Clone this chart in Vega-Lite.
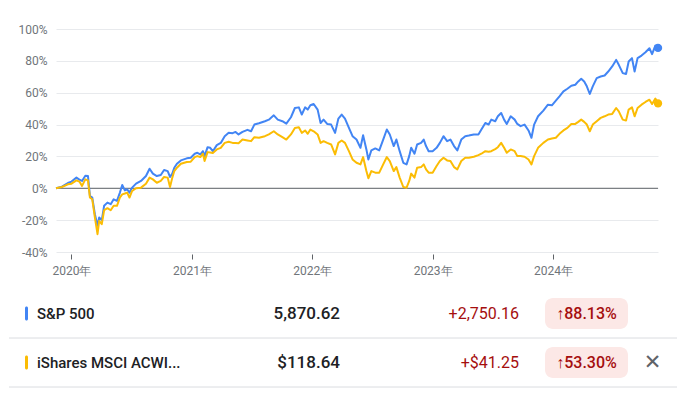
{
  "$schema": "https://vega.github.io/schema/vega-lite/v6.json",
  "background": "#ffffff",
  "padding": {"left": 8, "top": 23, "right": 0, "bottom": 0},
  "spacing": 13,
  "config": {"view": {"stroke": null}, "font": "Roboto"},
  "datasets": {
    "prices": [
      {"date": "2019-11-15", "sp": 0, "acwi": 0},
      {"date": "2019-12-03", "sp": 1.0, "acwi": 0.8},
      {"date": "2019-12-21", "sp": 3.3, "acwi": 2.5},
      {"date": "2020-01-01", "sp": 4.2, "acwi": 2.9},
      {"date": "2020-01-16", "sp": 6.7, "acwi": 5.0},
      {"date": "2020-01-25", "sp": 5.4, "acwi": 4.2},
      {"date": "2020-02-02", "sp": 4.6, "acwi": 1.5},
      {"date": "2020-02-12", "sp": 7.9, "acwi": 5.6},
      {"date": "2020-02-20", "sp": 7.7, "acwi": 5.0},
      {"date": "2020-02-26", "sp": -4.8, "acwi": -5.8},
      {"date": "2020-03-04", "sp": -5.8, "acwi": -6.9},
      {"date": "2020-03-12", "sp": -16.3, "acwi": -18.3},
      {"date": "2020-03-20", "sp": -23.5, "acwi": -28.8},
      {"date": "2020-03-25", "sp": -18.3, "acwi": -20.4},
      {"date": "2020-04-02", "sp": -20.0, "acwi": -22.5},
      {"date": "2020-04-09", "sp": -11.0, "acwi": -13.8},
      {"date": "2020-04-19", "sp": -9.0, "acwi": -12.5},
      {"date": "2020-04-29", "sp": -10.0, "acwi": -13.8},
      {"date": "2020-05-08", "sp": -6.9, "acwi": -11.0},
      {"date": "2020-05-18", "sp": -7.9, "acwi": -11.0},
      {"date": "2020-05-27", "sp": -2.7, "acwi": -5.8},
      {"date": "2020-06-03", "sp": 2.1, "acwi": -3.8},
      {"date": "2020-06-11", "sp": -1.3, "acwi": -3.3},
      {"date": "2020-06-18", "sp": -0.6, "acwi": -2.7},
      {"date": "2020-06-25", "sp": -2.7, "acwi": -5.8},
      {"date": "2020-07-03", "sp": 0.4, "acwi": -1.7},
      {"date": "2020-07-15", "sp": 2.9, "acwi": 0.0},
      {"date": "2020-07-30", "sp": 4.6, "acwi": 0.4},
      {"date": "2020-08-14", "sp": 7.7, "acwi": 2.9},
      {"date": "2020-08-25", "sp": 12.3, "acwi": 6.7},
      {"date": "2020-09-04", "sp": 9.2, "acwi": 5.6},
      {"date": "2020-09-16", "sp": 7.7, "acwi": 3.5},
      {"date": "2020-09-28", "sp": 8.3, "acwi": 4.6},
      {"date": "2020-10-08", "sp": 11.5, "acwi": 7.1},
      {"date": "2020-10-19", "sp": 10.8, "acwi": 6.7},
      {"date": "2020-10-26", "sp": 7.1, "acwi": 0.8},
      {"date": "2020-11-02", "sp": 9.2, "acwi": 6.7},
      {"date": "2020-11-08", "sp": 12.9, "acwi": 10.8},
      {"date": "2020-11-16", "sp": 15.4, "acwi": 12.9},
      {"date": "2020-11-28", "sp": 17.5, "acwi": 15.4},
      {"date": "2020-12-16", "sp": 18.8, "acwi": 16.5},
      {"date": "2020-12-28", "sp": 19.2, "acwi": 16.7},
      {"date": "2021-01-09", "sp": 21.7, "acwi": 19.6},
      {"date": "2021-01-17", "sp": 22.3, "acwi": 20.2},
      {"date": "2021-01-26", "sp": 21.3, "acwi": 19.6},
      {"date": "2021-02-03", "sp": 23.3, "acwi": 21.7},
      {"date": "2021-02-08", "sp": 20.2, "acwi": 17.1},
      {"date": "2021-02-17", "sp": 25.8, "acwi": 22.7},
      {"date": "2021-02-25", "sp": 25.4, "acwi": 22.5},
      {"date": "2021-03-05", "sp": 23.3, "acwi": 22.1},
      {"date": "2021-03-17", "sp": 27.1, "acwi": 24.4},
      {"date": "2021-03-29", "sp": 28.5, "acwi": 25.4},
      {"date": "2021-04-10", "sp": 32.7, "acwi": 28.5},
      {"date": "2021-04-22", "sp": 34.8, "acwi": 29.2},
      {"date": "2021-05-04", "sp": 34.6, "acwi": 28.5},
      {"date": "2021-05-13", "sp": 35.4, "acwi": 28.5},
      {"date": "2021-05-22", "sp": 33.8, "acwi": 28.3},
      {"date": "2021-06-03", "sp": 35.4, "acwi": 30.6},
      {"date": "2021-06-18", "sp": 36.7, "acwi": 30.0},
      {"date": "2021-06-29", "sp": 35.8, "acwi": 29.6},
      {"date": "2021-07-09", "sp": 40.0, "acwi": 32.1},
      {"date": "2021-07-23", "sp": 40.8, "acwi": 31.7},
      {"date": "2021-08-10", "sp": 42.1, "acwi": 32.7},
      {"date": "2021-08-22", "sp": 43.1, "acwi": 33.8},
      {"date": "2021-09-06", "sp": 45.8, "acwi": 35.8},
      {"date": "2021-09-18", "sp": 43.1, "acwi": 33.8},
      {"date": "2021-10-02", "sp": 42.1, "acwi": 32.1},
      {"date": "2021-10-14", "sp": 40.6, "acwi": 30.6},
      {"date": "2021-10-28", "sp": 44.6, "acwi": 33.8},
      {"date": "2021-11-09", "sp": 50.4, "acwi": 37.9},
      {"date": "2021-11-21", "sp": 50.8, "acwi": 38.3},
      {"date": "2021-11-30", "sp": 46.3, "acwi": 34.8},
      {"date": "2021-12-10", "sp": 50.8, "acwi": 36.3},
      {"date": "2021-12-18", "sp": 49.4, "acwi": 34.2},
      {"date": "2021-12-26", "sp": 52.1, "acwi": 36.9},
      {"date": "2022-01-05", "sp": 52.9, "acwi": 35.8},
      {"date": "2022-01-17", "sp": 49.4, "acwi": 33.8},
      {"date": "2022-01-26", "sp": 41.0, "acwi": 28.5},
      {"date": "2022-02-04", "sp": 43.1, "acwi": 29.6},
      {"date": "2022-02-15", "sp": 40.4, "acwi": 28.5},
      {"date": "2022-02-27", "sp": 40.0, "acwi": 27.5},
      {"date": "2022-03-11", "sp": 34.8, "acwi": 21.3},
      {"date": "2022-03-21", "sp": 43.8, "acwi": 28.5},
      {"date": "2022-03-31", "sp": 46.3, "acwi": 30.0},
      {"date": "2022-04-10", "sp": 43.8, "acwi": 28.5},
      {"date": "2022-04-22", "sp": 37.9, "acwi": 23.3},
      {"date": "2022-05-03", "sp": 32.7, "acwi": 18.1},
      {"date": "2022-05-15", "sp": 30.6, "acwi": 16.0},
      {"date": "2022-05-27", "sp": 25.4, "acwi": 15.0},
      {"date": "2022-06-04", "sp": 33.3, "acwi": 19.6},
      {"date": "2022-06-14", "sp": 24.4, "acwi": 10.8},
      {"date": "2022-06-20", "sp": 18.1, "acwi": 6.3},
      {"date": "2022-06-29", "sp": 23.8, "acwi": 10.8},
      {"date": "2022-07-11", "sp": 25.0, "acwi": 9.8},
      {"date": "2022-07-23", "sp": 23.8, "acwi": 9.8},
      {"date": "2022-08-04", "sp": 30.6, "acwi": 15.0},
      {"date": "2022-08-15", "sp": 36.9, "acwi": 19.6},
      {"date": "2022-08-24", "sp": 33.8, "acwi": 17.1},
      {"date": "2022-09-05", "sp": 26.5, "acwi": 10.8},
      {"date": "2022-09-13", "sp": 30.6, "acwi": 13.3},
      {"date": "2022-09-23", "sp": 23.3, "acwi": 6.7},
      {"date": "2022-10-04", "sp": 16.0, "acwi": 0.8},
      {"date": "2022-10-14", "sp": 15.0, "acwi": 0.4},
      {"date": "2022-10-22", "sp": 20.2, "acwi": 4.6},
      {"date": "2022-10-28", "sp": 25.4, "acwi": 9.2},
      {"date": "2022-11-07", "sp": 21.7, "acwi": 6.7},
      {"date": "2022-11-15", "sp": 27.5, "acwi": 12.9},
      {"date": "2022-11-27", "sp": 28.5, "acwi": 13.3},
      {"date": "2022-12-05", "sp": 30.6, "acwi": 15.0},
      {"date": "2022-12-12", "sp": 26.5, "acwi": 11.9},
      {"date": "2022-12-20", "sp": 23.3, "acwi": 9.8},
      {"date": "2023-01-01", "sp": 23.3, "acwi": 9.8},
      {"date": "2023-01-13", "sp": 25.4, "acwi": 14.0},
      {"date": "2023-01-23", "sp": 28.5, "acwi": 17.1},
      {"date": "2023-02-03", "sp": 32.7, "acwi": 19.2},
      {"date": "2023-02-14", "sp": 29.6, "acwi": 17.5},
      {"date": "2023-02-24", "sp": 30.6, "acwi": 17.1},
      {"date": "2023-03-07", "sp": 26.5, "acwi": 13.3},
      {"date": "2023-03-17", "sp": 23.8, "acwi": 11.9},
      {"date": "2023-03-29", "sp": 30.6, "acwi": 17.1},
      {"date": "2023-04-10", "sp": 32.7, "acwi": 19.2},
      {"date": "2023-04-21", "sp": 33.1, "acwi": 19.2},
      {"date": "2023-05-06", "sp": 33.8, "acwi": 19.8},
      {"date": "2023-05-20", "sp": 33.8, "acwi": 20.8},
      {"date": "2023-05-29", "sp": 36.9, "acwi": 21.7},
      {"date": "2023-06-10", "sp": 41.0, "acwi": 23.3},
      {"date": "2023-06-20", "sp": 40.0, "acwi": 22.9},
      {"date": "2023-06-28", "sp": 43.1, "acwi": 23.3},
      {"date": "2023-07-10", "sp": 42.1, "acwi": 24.6},
      {"date": "2023-07-18", "sp": 45.2, "acwi": 25.8},
      {"date": "2023-07-28", "sp": 47.3, "acwi": 28.5},
      {"date": "2023-08-06", "sp": 43.1, "acwi": 25.4},
      {"date": "2023-08-14", "sp": 40.4, "acwi": 22.3},
      {"date": "2023-08-26", "sp": 45.2, "acwi": 24.4},
      {"date": "2023-09-07", "sp": 43.1, "acwi": 23.3},
      {"date": "2023-09-15", "sp": 40.4, "acwi": 20.2},
      {"date": "2023-09-25", "sp": 39.0, "acwi": 20.2},
      {"date": "2023-10-07", "sp": 40.0, "acwi": 19.8},
      {"date": "2023-10-19", "sp": 36.3, "acwi": 18.1},
      {"date": "2023-10-28", "sp": 31.7, "acwi": 15.0},
      {"date": "2023-11-05", "sp": 40.0, "acwi": 20.2},
      {"date": "2023-11-17", "sp": 45.2, "acwi": 25.4},
      {"date": "2023-12-03", "sp": 48.8, "acwi": 28.5},
      {"date": "2023-12-17", "sp": 52.5, "acwi": 30.6},
      {"date": "2023-12-29", "sp": 52.1, "acwi": 31.3},
      {"date": "2024-01-10", "sp": 55.0, "acwi": 31.7},
      {"date": "2024-01-21", "sp": 57.7, "acwi": 34.2},
      {"date": "2024-02-02", "sp": 60.8, "acwi": 36.3},
      {"date": "2024-02-14", "sp": 62.5, "acwi": 37.9},
      {"date": "2024-02-26", "sp": 64.4, "acwi": 40.4},
      {"date": "2024-03-09", "sp": 65.0, "acwi": 40.4},
      {"date": "2024-03-18", "sp": 67.1, "acwi": 41.7},
      {"date": "2024-03-27", "sp": 68.8, "acwi": 43.1},
      {"date": "2024-04-05", "sp": 67.1, "acwi": 41.7},
      {"date": "2024-04-13", "sp": 64.0, "acwi": 40.0},
      {"date": "2024-04-22", "sp": 59.2, "acwi": 35.8},
      {"date": "2024-05-01", "sp": 64.0, "acwi": 40.0},
      {"date": "2024-05-13", "sp": 69.2, "acwi": 42.1},
      {"date": "2024-05-25", "sp": 70.2, "acwi": 44.2},
      {"date": "2024-06-06", "sp": 70.8, "acwi": 45.2},
      {"date": "2024-06-17", "sp": 73.3, "acwi": 46.3},
      {"date": "2024-06-29", "sp": 76.5, "acwi": 46.7},
      {"date": "2024-07-11", "sp": 80.6, "acwi": 50.4},
      {"date": "2024-07-19", "sp": 77.5, "acwi": 48.3},
      {"date": "2024-07-31", "sp": 72.3, "acwi": 43.1},
      {"date": "2024-08-10", "sp": 71.7, "acwi": 42.5},
      {"date": "2024-08-18", "sp": 79.6, "acwi": 49.4},
      {"date": "2024-08-28", "sp": 81.7, "acwi": 50.8},
      {"date": "2024-09-05", "sp": 73.3, "acwi": 45.2},
      {"date": "2024-09-14", "sp": 81.7, "acwi": 50.4},
      {"date": "2024-09-26", "sp": 83.3, "acwi": 52.5},
      {"date": "2024-10-08", "sp": 85.4, "acwi": 54.2},
      {"date": "2024-10-20", "sp": 87.9, "acwi": 55.6},
      {"date": "2024-10-28", "sp": 84.2, "acwi": 52.9},
      {"date": "2024-11-07", "sp": 89.6, "acwi": 56.3},
      {"date": "2024-11-15", "sp": 88.13, "acwi": 53.30}
    ],
    "summary": [
      {"key": "sp", "name": "S&P 500", "price": "5,870.62", "change": "+2,750.16", "pct": "↑88.13%"},
      {"key": "acwi", "name": "iShares MSCI ACWI...", "price": "$118.64", "change": "+$41.25", "pct": "↑53.30%"}
    ]
  },
  "vconcat": [
    {
      "spacing": 0,
      "hconcat": [
        {
          "width": 1, "height": 1,
          "data": {"values": []},
          "mark": "point"
        },
        {
          "width": 602,
          "height": 223,
          "data": {"name": "prices"},
          "layer": [
            {
              "data": {"values": [{"level": 0}]},
              "mark": {"type": "rule", "color": "#5f6368", "strokeWidth": 1},
              "encoding": {
                "y": {
                  "field": "level", "type": "quantitative", "title": null,
                  "scale": {"domain": [-40, 100]},
                  "axis": {
                    "values": [-40, -20, 0, 20, 40, 60, 80, 100],
                    "labelExpr": "datum.value + '%'",
                    "title": null, "domain": false, "ticks": false, "grid": true, "gridColor": "#e8eaed",
                    "labelPadding": 9, "labelColor": "#70757a", "labelFontSize": 12,
                    "minExtent": 46, "maxExtent": 46
                  }
                }
              }
            },
            {
              "transform": [{"fold": ["sp", "acwi"], "as": ["key", "pct"]}],
              "mark": {"type": "line", "strokeWidth": 2, "strokeJoin": "round"},
              "encoding": {
                "x": {
                  "field": "date", "type": "temporal", "title": null,
                  "scale": {"domain": [{"year": 2019, "month": 11, "date": 15}, {"year": 2024, "month": 11, "date": 15}]},
                  "axis": {
                    "values": [{"year": 2020, "month": 1, "date": 1}, {"year": 2021, "month": 1, "date": 1}, {"year": 2022, "month": 1, "date": 1}, {"year": 2023, "month": 1, "date": 1}, {"year": 2024, "month": 1, "date": 1}],
                    "labelExpr": "timeFormat(datum.value, '%Y') + '年'",
                    "title": null, "domain": false, "grid": false,
                    "ticks": true, "tickSize": 5, "tickColor": "#5f6368", "tickWidth": 1, "offset": 2,
                    "labelPadding": 6, "labelColor": "#70757a", "labelFontSize": 12, "labelFlush": false, "labelOverlap": false
                  }
                },
                "y": {
                  "field": "pct", "type": "quantitative", "title": null,
                  "scale": {"domain": [-40, 100]},
                  "axis": {
                    "values": [-40, -20, 0, 20, 40, 60, 80, 100],
                    "labelExpr": "datum.value + '%'",
                    "title": null, "domain": false, "ticks": false, "grid": true, "gridColor": "#e8eaed",
                    "labelPadding": 9, "labelColor": "#70757a", "labelFontSize": 12,
                    "minExtent": 46, "maxExtent": 46
                  }
                },
                "color": {"field": "key", "type": "nominal", "scale": {"domain": ["sp", "acwi"], "range": ["#4285f4", "#fbbc04"]}, "legend": null}
              }
            },
            {
              "transform": [
                {"fold": ["sp", "acwi"], "as": ["key", "pct"]},
                {"filter": {"field": "date", "timeUnit": "yearmonthdate", "equal": {"year": 2024, "month": 11, "date": 15}}}
              ],
              "mark": {"type": "circle", "size": 70, "opacity": 1},
              "encoding": {
                "x": {
                  "field": "date", "type": "temporal", "title": null,
                  "scale": {"domain": [{"year": 2019, "month": 11, "date": 15}, {"year": 2024, "month": 11, "date": 15}]},
                  "axis": {
                    "values": [{"year": 2020, "month": 1, "date": 1}, {"year": 2021, "month": 1, "date": 1}, {"year": 2022, "month": 1, "date": 1}, {"year": 2023, "month": 1, "date": 1}, {"year": 2024, "month": 1, "date": 1}],
                    "labelExpr": "timeFormat(datum.value, '%Y') + '年'",
                    "title": null, "domain": false, "grid": false,
                    "ticks": true, "tickSize": 5, "tickColor": "#5f6368", "tickWidth": 1, "offset": 2,
                    "labelPadding": 6, "labelColor": "#70757a", "labelFontSize": 12, "labelFlush": false, "labelOverlap": false
                  }
                },
                "y": {
                  "field": "pct", "type": "quantitative", "title": null,
                  "scale": {"domain": [-40, 100]},
                  "axis": {
                    "values": [-40, -20, 0, 20, 40, 60, 80, 100],
                    "labelExpr": "datum.value + '%'",
                    "title": null, "domain": false, "ticks": false, "grid": true, "gridColor": "#e8eaed",
                    "labelPadding": 9, "labelColor": "#70757a", "labelFontSize": 12,
                    "minExtent": 46, "maxExtent": 46
                  }
                },
                "color": {"field": "key", "type": "nominal", "scale": {"domain": ["sp", "acwi"], "range": ["#4285f4", "#fbbc04"]}, "legend": null}
              }
            }
          ]
        }
      ]
    },
    {
      "hconcat": [
        {
          "width": 16, "height": 98, "data": {"name": "summary"},
          "mark": {"type": "rule", "color": "#dadce0"},
          "encoding": {"y": {"field": "key", "type": "nominal", "bandPosition": 1, "scale": {"domain": ["sp", "acwi"], "paddingInner": 0, "paddingOuter": 0}, "axis": null}}
        },
        {
          "width": 3, "height": 98, "data": {"name": "summary"},
          "layer": [
            {
              "mark": {"type": "rule", "color": "#dadce0"},
              "encoding": {"y": {"field": "key", "type": "nominal", "bandPosition": 1, "scale": {"domain": ["sp", "acwi"], "paddingInner": 0, "paddingOuter": 0}, "axis": null}}
            },
            {
              "mark": {"type": "rect", "height": {"band": 0.29}, "cornerRadius": 1.5},
              "encoding": {
                "y": {"field": "key", "type": "nominal", "scale": {"domain": ["sp", "acwi"], "paddingInner": 0, "paddingOuter": 0}, "axis": null},
                "color": {"field": "key", "type": "nominal", "scale": {"domain": ["sp", "acwi"], "range": ["#4285f4", "#fbbc04"]}, "legend": null}
              }
            }
          ]
        },
        {
          "width": 9, "height": 98, "data": {"name": "summary"},
          "mark": {"type": "rule", "color": "#dadce0"},
          "encoding": {"y": {"field": "key", "type": "nominal", "bandPosition": 1, "scale": {"domain": ["sp", "acwi"], "paddingInner": 0, "paddingOuter": 0}, "axis": null}}
        },
        {
          "width": 164, "height": 98, "data": {"name": "summary"},
          "layer": [
            {
              "mark": {"type": "rule", "color": "#dadce0"},
              "encoding": {"y": {"field": "key", "type": "nominal", "bandPosition": 1, "scale": {"domain": ["sp", "acwi"], "paddingInner": 0, "paddingOuter": 0}, "axis": null}}
            },
            {
              "mark": {"type": "text", "align": "left", "baseline": "middle", "fontSize": 15, "fontWeight": 500, "color": "#202124"},
              "encoding": {
                "x": {"value": 0},
                "y": {"field": "key", "type": "nominal", "scale": {"domain": ["sp", "acwi"], "paddingInner": 0, "paddingOuter": 0}, "axis": null},
                "text": {"field": "name"}
              }
            }
          ]
        },
        {
          "width": 139, "height": 98, "data": {"name": "summary"},
          "layer": [
            {
              "mark": {"type": "rule", "color": "#dadce0"},
              "encoding": {"y": {"field": "key", "type": "nominal", "bandPosition": 1, "scale": {"domain": ["sp", "acwi"], "paddingInner": 0, "paddingOuter": 0}, "axis": null}}
            },
            {
              "mark": {"type": "text", "align": "right", "baseline": "middle", "fontSize": 17, "fontWeight": 500, "color": "#202124"},
              "encoding": {
                "x": {"value": "width"},
                "y": {"field": "key", "type": "nominal", "scale": {"domain": ["sp", "acwi"], "paddingInner": 0, "paddingOuter": 0}, "axis": null},
                "text": {"field": "price"}
              }
            }
          ]
        },
        {
          "width": 179, "height": 98, "data": {"name": "summary"},
          "layer": [
            {
              "mark": {"type": "rule", "color": "#dadce0"},
              "encoding": {"y": {"field": "key", "type": "nominal", "bandPosition": 1, "scale": {"domain": ["sp", "acwi"], "paddingInner": 0, "paddingOuter": 0}, "axis": null}}
            },
            {
              "mark": {"type": "text", "align": "right", "baseline": "middle", "fontSize": 16, "color": "#a50e0e"},
              "encoding": {
                "x": {"value": "width"},
                "y": {"field": "key", "type": "nominal", "scale": {"domain": ["sp", "acwi"], "paddingInner": 0, "paddingOuter": 0}, "axis": null},
                "text": {"field": "change"}
              }
            }
          ]
        },
        {
          "width": 26, "height": 98, "data": {"name": "summary"},
          "mark": {"type": "rule", "color": "#dadce0"},
          "encoding": {"y": {"field": "key", "type": "nominal", "bandPosition": 1, "scale": {"domain": ["sp", "acwi"], "paddingInner": 0, "paddingOuter": 0}, "axis": null}}
        },
        {
          "width": 83, "height": 98, "data": {"name": "summary"},
          "layer": [
            {
              "mark": {"type": "rule", "color": "#dadce0"},
              "encoding": {"y": {"field": "key", "type": "nominal", "bandPosition": 1, "scale": {"domain": ["sp", "acwi"], "paddingInner": 0, "paddingOuter": 0}, "axis": null}}
            },
            {
              "mark": {"type": "rect", "height": {"band": 0.63}, "cornerRadius": 8, "color": "#fce8e6"},
              "encoding": {
                "y": {"field": "key", "type": "nominal", "scale": {"domain": ["sp", "acwi"], "paddingInner": 0, "paddingOuter": 0}, "axis": null}
              }
            },
            {
              "mark": {"type": "text", "align": "center", "baseline": "middle", "fontSize": 16, "fontWeight": 500, "color": "#a50e0e"},
              "encoding": {
                "y": {"field": "key", "type": "nominal", "scale": {"domain": ["sp", "acwi"], "paddingInner": 0, "paddingOuter": 0}, "axis": null},
                "text": {"field": "pct"}
              }
            }
          ]
        },
        {
          "width": 49, "height": 98, "data": {"name": "summary"},
          "layer": [
            {
              "mark": {"type": "rule", "color": "#dadce0"},
              "encoding": {"y": {"field": "key", "type": "nominal", "bandPosition": 1, "scale": {"domain": ["sp", "acwi"], "paddingInner": 0, "paddingOuter": 0}, "axis": null}}
            },
            {
              "transform": [{"filter": "datum.key == 'acwi'"}],
              "mark": {"type": "text", "align": "center", "baseline": "middle", "fontSize": 21, "font": "DejaVu Sans", "color": "#5f6368"},
              "encoding": {
                "y": {"field": "key", "type": "nominal", "scale": {"domain": ["sp", "acwi"], "paddingInner": 0, "paddingOuter": 0}, "axis": null},
                "text": {"value": "✕"}
              }
            }
          ]
        }
      ],
      "spacing": 0,
      "bounds": "flush"
    }
  ]
}
